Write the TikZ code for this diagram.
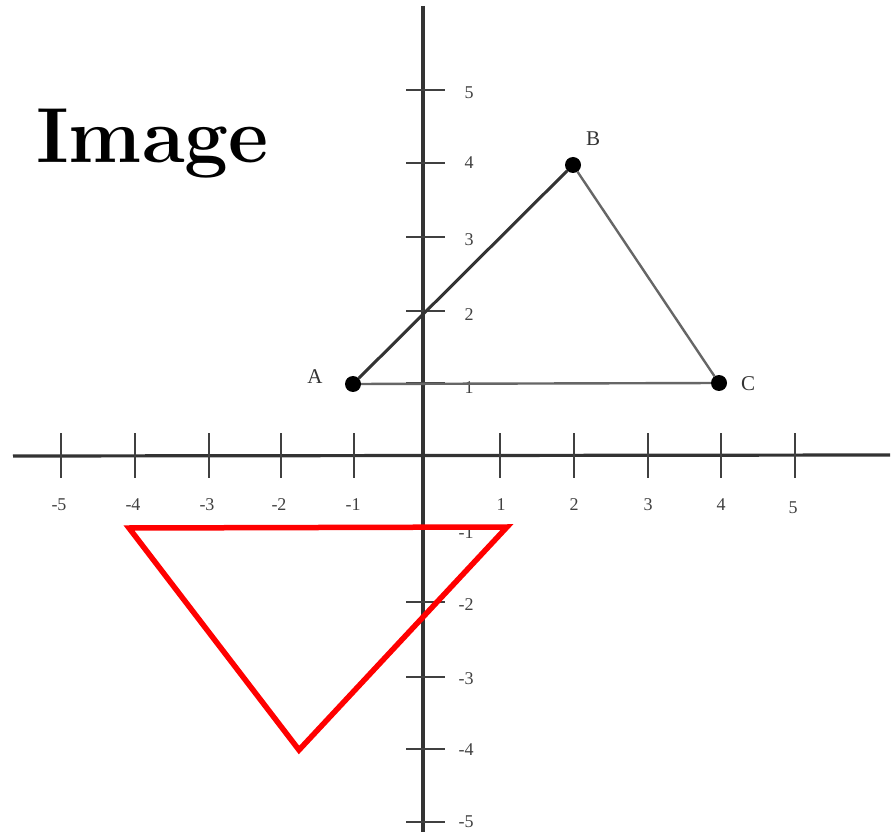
\documentclass[tikz,border=0pt]{standalone}
\usepackage{fontspec}
\newfontfamily\lblfont{Liberation Serif}
\begin{document}
\begin{tikzpicture}[x=1pt,y=-1pt,
  axis/.style={line width=3.2pt,draw=black!80},
  tick/.style={line width=2.2pt,draw=black!75},
  lbl/.style={font=\lblfont\fontsize{18}{18}\selectfont,text=black!75,inner sep=0pt},
  ptlbl/.style={font=\lblfont\fontsize{21}{21}\selectfont,text=black!80,inner sep=0pt},
  dot/.style={circle,fill=black,inner sep=0pt,minimum size=16pt},
  edgeAB/.style={line width=3pt,draw=black!80},
  edgegray/.style={line width=2.4pt,draw=black!60},
  redtri/.style={line width=5.5pt,draw=red,line join=miter}]
\useasboundingbox (0,0) rectangle (892,834);
% axes
\coordinate (xl) at (13,456);
\coordinate (xr) at (890,455);
\coordinate (yt) at (423,6);
\coordinate (yb) at (423,832);
\draw[axis] (xl) -- (xr);
\draw[axis] (yt) -- (yb);
% x ticks and labels
\foreach \v/\px in {-5/61,-4/135,-3/209,-2/281,-1/354,1/500,2/574,3/648,4/721,5/795}{
  \draw[tick] (\px,433) -- (\px,478);
}
\foreach \v/\px/\py in {-5/59/505,-4/133/505,-3/207/505,-2/279/505,-1/353/505,1/501/505,2/574/505,3/648/505,4/721/505,5/793/508}{
  \node[lbl] (xlab\v) at (\px,\py) {\v};
}
% y ticks and labels
\foreach \v/\py in {5/90,4/163,3/237,2/311,1/383,-1/528,-2/602,-3/677,-4/749,-5/822}{
  \draw[tick] (406,\py) -- (445,\py);
}
\foreach \v/\py in {5/93,4/163,3/240,2/315,1/388}{
  \node[lbl] (ylab\v) at (469,\py) {\v};
}
\foreach \v/\py in {-1/533,-2/605,-3/679,-4/750,-5/822}{
  \node[lbl] (ylab\v) at (466,\py) {\v};
}
% triangle ABC
\node[dot] (A) at (353,384) {};
\node[dot] (B) at (573,165) {};
\node[dot] (C) at (719,383) {};
\draw[edgeAB] (A) -- (B);
\draw[edgegray] (B) -- (C);
\draw[edgegray] (A) -- (C);
\node[ptlbl] (Alab) at (315,377) {A};
\node[ptlbl] (Blab) at (593,139) {B};
\node[ptlbl] (Clab) at (748,384) {C};
% red triangle
\coordinate (R1) at (129,528);
\coordinate (R2) at (507,527);
\coordinate (R3) at (299,750);
\draw[redtri] (R1) -- (R2) -- (R3) -- cycle;
% title
\node[anchor=base west,inner sep=0pt,font=\fontsize{78}{78}\selectfont\bfseries] (title) at (36,163) {Image};
\end{tikzpicture}
\end{document}
